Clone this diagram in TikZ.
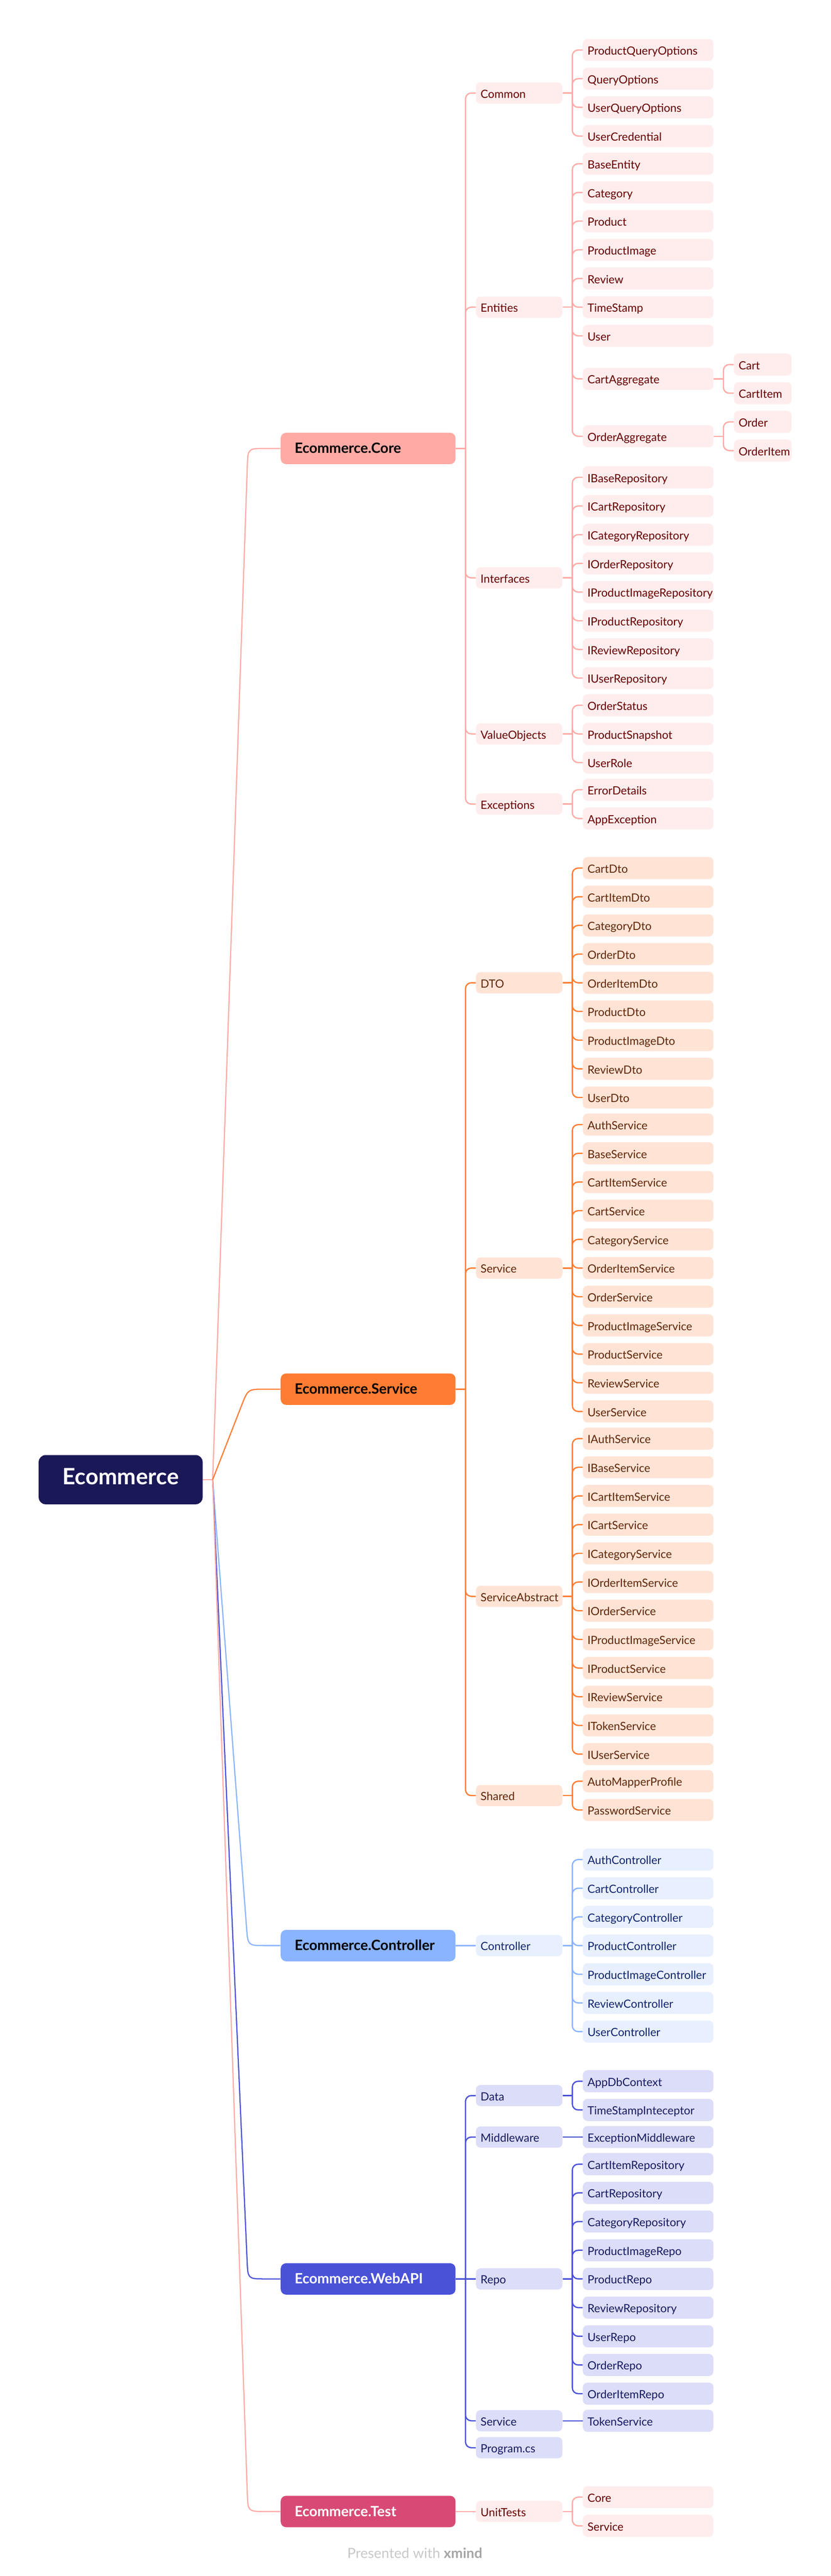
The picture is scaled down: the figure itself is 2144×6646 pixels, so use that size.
\documentclass[tikz,border=0pt]{standalone}
\usepackage{fontspec}
\setmainfont{Lato}
\usetikzlibrary{calc}
\definecolor{rootblue}{RGB}{27,24,88}
\definecolor{corepink}{RGB}{255,170,165}
\definecolor{coreleaf}{RGB}{255,237,237}
\definecolor{coretext}{RGB}{102,0,0}
\definecolor{svcorange}{RGB}{255,124,50}
\definecolor{svcleaf}{RGB}{255,228,214}
\definecolor{svctext}{RGB}{96,38,8}
\definecolor{ctrlblue}{RGB}{138,180,255}
\definecolor{ctrlleaf}{RGB}{232,240,255}
\definecolor{ctrltext}{RGB}{16,36,110}
\definecolor{apiblue}{RGB}{74,82,216}
\definecolor{apileaf}{RGB}{220,221,248}
\definecolor{apitext}{RGB}{22,26,96}
\definecolor{testred}{RGB}{216,74,117}
\definecolor{footgray}{RGB}{200,200,200}
\definecolor{footdark}{RGB}{165,165,165}
\tikzset{
  rootbox/.style = {rectangle, rounded corners=0.18cm, fill=rootblue, text=white, minimum width=4.23cm, minimum height=1.27cm, text height=0.72em, text depth=0pt, font=\fontsize{16.5}{18}\selectfont\bfseries},
  lvone/.style = {rectangle, rounded corners=0.14cm, anchor=west, minimum height=0.81cm, text width=3.79cm, inner xsep=0.36cm, inner ysep=0pt, align=left, text height=0.72em, text depth=0pt, font=\fontsize{10.4}{12}\selectfont\bfseries},
  lvtwo/.style = {rectangle, rounded corners=0.12cm, anchor=west, minimum height=0.55cm, text width=1.99cm, inner xsep=0.12cm, inner ysep=0pt, align=left, text height=0.72em, text depth=0pt, font=\fontsize{8.3}{10}\selectfont},
  leaf/.style = {lvtwo, minimum height=0.57cm, text width=3.13cm},
  subleaf/.style = {lvtwo, minimum height=0.57cm, text width=1.25cm},
  corebox/.style = {fill=coreleaf, text=coretext},
  svcbox/.style = {fill=svcleaf, text=svctext},
  ctrlbox/.style = {fill=ctrlleaf, text=ctrltext},
  apibox/.style = {fill=apileaf, text=apitext},
  trunk/.style = {line width=0.03cm},
  link/.style = {line width=0.033cm, rounded corners=0.15cm},
}
% parent, box style, line colour, first y, leaves
\newcommand{\leafgroup}[5]{%
  \coordinate (#1-j) at ($(#1.east)+(25,0)$);
  \draw[link, #3] (#1.east) -- (#1-j);
  \foreach \t [count=\i from 0] in {#5} {
    \node[leaf, #2] (#1-\i) at (1504,#4+74*\i) {\t};
    \draw[link, #3] (#1-j) |- (#1-\i.west);
  }
}
% parent, box style, line colour, the one leaf
\newcommand{\leafsingle}[4]{%
  \node[leaf, #2, anchor=west] (#1-0) at (1504,0 |- #1.east) {#4};
  \draw[link, #3] (#1.east) -- (#1-0.west);
}
\begin{document}
\begin{tikzpicture}[x=0.01cm, y=-0.01cm]
\useasboundingbox (0,0) rectangle (2144,6646);

% Root
\node[rootbox] (root) at (311.5,3817.5) {Ecommerce};
\coordinate (hub) at (549,3817.5);
\coordinate (bend) at (640,0);

% Main branches
\node[lvone, fill=corepink] (core) at (724,1157) {Ecommerce.Core};
\node[lvone, fill=svcorange] (service) at (724,3584) {Ecommerce.Service};
\node[lvone, fill=ctrlblue] (ctrl) at (724,5019.5) {Ecommerce.Controller};
\node[lvone, fill=apiblue, text=white] (webapi) at (724,5879.5) {Ecommerce.WebAPI};
\node[lvone, fill=testred, text=white] (test) at (724,6479.5) {Ecommerce.Test};

\draw[trunk, corepink] (root.east) -- (hub);
\foreach \n/\c in {core/corepink, service/svcorange, ctrl/ctrlblue, webapi/apiblue, test/corepink} {
  \draw[trunk, \c] (hub) -- ($(bend |- \n.west)!0.45cm!(hub)$)
    .. controls (bend |- \n.west) .. ($(bend |- \n.west)+(45,0)$) -- (\n.west);
  \coordinate (\n-j) at ($(\n.east)+(25,0)$);
  \draw[link, \c] (\n.east) -- (\n-j);
}

% Ecommerce.Core
\node[lvtwo, corebox] (common) at (1228,240) {Common};
\node[lvtwo, corebox] (entities) at (1228,792.5) {Entities};
\node[lvtwo, corebox] (ifaces) at (1228,1491) {Interfaces};
\node[lvtwo, corebox] (valobj) at (1228,1893.5) {ValueObjects};
\node[lvtwo, corebox] (excep) at (1228,2074.5) {Exceptions};
\foreach \n in {common,entities,ifaces,valobj,excep}
  \draw[link, corepink] (core-j) |- (\n.west);

\leafgroup{common}{corebox}{corepink}{129}{ProductQueryOptions,QueryOptions,UserQueryOptions,UserCredential}
\leafgroup{entities}{corebox}{corepink}{422.5}{BaseEntity,Category,Product,ProductImage,Review,TimeStamp,User}
\node[leaf, corebox] (cartagg) at (1504,977.5) {CartAggregate};
\node[leaf, corebox] (orderagg) at (1504,1125.5) {OrderAggregate};
\draw[link, corepink] (entities-j) |- (cartagg.west);
\draw[link, corepink] (entities-j) |- (orderagg.west);
\foreach \n/\a/\b in {cartagg/Cart/CartItem, orderagg/Order/OrderItem} {
  \coordinate (\n-j) at ($(\n.east)+(25,0)$);
  \node[subleaf, corebox] (\n-a) at (1894,0 |- \n.west) [yshift=0.37cm] {\a};
  \node[subleaf, corebox] (\n-b) at (1894,0 |- \n.west) [yshift=-0.37cm] {\b};
  \draw[link, corepink] (\n.east) -- (\n-j);
  \draw[link, corepink] (\n-j) |- (\n-a.west);
  \draw[link, corepink] (\n-j) |- (\n-b.west);
}
\leafgroup{ifaces}{corebox}{corepink}{1231.5}{IBaseRepository,ICartRepository,ICategoryRepository,IOrderRepository,IProductImageRepository,IProductRepository,IReviewRepository,IUserRepository}
\leafgroup{valobj}{corebox}{corepink}{1819.5}{OrderStatus,ProductSnapshot,UserRole}
\leafgroup{excep}{corebox}{corepink}{2037.5}{ErrorDetails,AppException}

% Ecommerce.Service
\node[lvtwo, svcbox] (dto) at (1228,2535.5) {DTO};
\node[lvtwo, svcbox] (svc) at (1228,3271.5) {Service};
\node[lvtwo, svcbox] (svcabs) at (1228,4118.5) {ServiceAbstract};
\node[lvtwo, svcbox] (shared) at (1228,4632.5) {Shared};
\foreach \n in {dto,svc,svcabs,shared}
  \draw[link, svcorange] (service-j) |- (\n.west);

\leafgroup{dto}{svcbox}{svcorange}{2239.5}{CartDto,CartItemDto,CategoryDto,OrderDto,OrderItemDto,ProductDto,ProductImageDto,ReviewDto,UserDto}
\leafgroup{svc}{svcbox}{svcorange}{2901.5}{AuthService,BaseService,CartItemService,CartService,CategoryService,OrderItemService,OrderService,ProductImageService,ProductService,ReviewService,UserService}
\leafgroup{svcabs}{svcbox}{svcorange}{3711.5}{IAuthService,IBaseService,ICartItemService,ICartService,ICategoryService,IOrderItemService,IOrderService,IProductImageService,IProductService,IReviewService,ITokenService,IUserService}
\leafgroup{shared}{svcbox}{svcorange}{4595.5}{AutoMapperProfile,PasswordService}

% Ecommerce.Controller
\node[lvtwo, ctrlbox] (ctrlgrp) at (1228,5019.5) {Controller};
\draw[link, ctrlblue] (ctrl-j) -- (ctrlgrp.west);
\leafgroup{ctrlgrp}{ctrlbox}{ctrlblue}{4797.5}{AuthController,CartController,CategoryController,ProductController,ProductImageController,ReviewController,UserController}

% Ecommerce.WebAPI
\node[lvtwo, apibox] (data) at (1228,5406.5) {Data};
\node[lvtwo, apibox] (middle) at (1228,5513.5) {Middleware};
\node[lvtwo, apibox] (repo) at (1228,5879.5) {Repo};
\node[lvtwo, apibox] (apisvc) at (1228,6245.5) {Service};
\node[lvtwo, apibox] (program) at (1228,6315) {Program.cs};
\foreach \n in {data,middle,apisvc,program}
  \draw[link, apiblue] (webapi-j) |- (\n.west);
\draw[link, apiblue] (webapi-j) -- (repo.west);

\leafgroup{data}{apibox}{apiblue}{5369.5}{AppDbContext,TimeStampInteceptor}
\leafsingle{middle}{apibox}{apiblue}{ExceptionMiddleware}
\leafgroup{repo}{apibox}{apiblue}{5583.5}{CartItemRepository,CartRepository,CategoryRepository,ProductImageRepo,ProductRepo,ReviewRepository,UserRepo,OrderRepo,OrderItemRepo}
\leafsingle{apisvc}{apibox}{apiblue}{TokenService}

% Ecommerce.Test
\node[lvtwo, corebox] (unittests) at (1228,6479.5) {UnitTests};
\draw[link, corepink] (test-j) -- (unittests.west);
\leafgroup{unittests}{corebox}{corepink}{6442.5}{Core,Service}

% Footer
\node[font=\fontsize{10.3}{12}\selectfont, text=footgray, text height=0.72em, text depth=0pt] (credit) at (1071,6588) {Presented with \textbf{\color{footdark}xmind}};
\end{tikzpicture}
\end{document}
